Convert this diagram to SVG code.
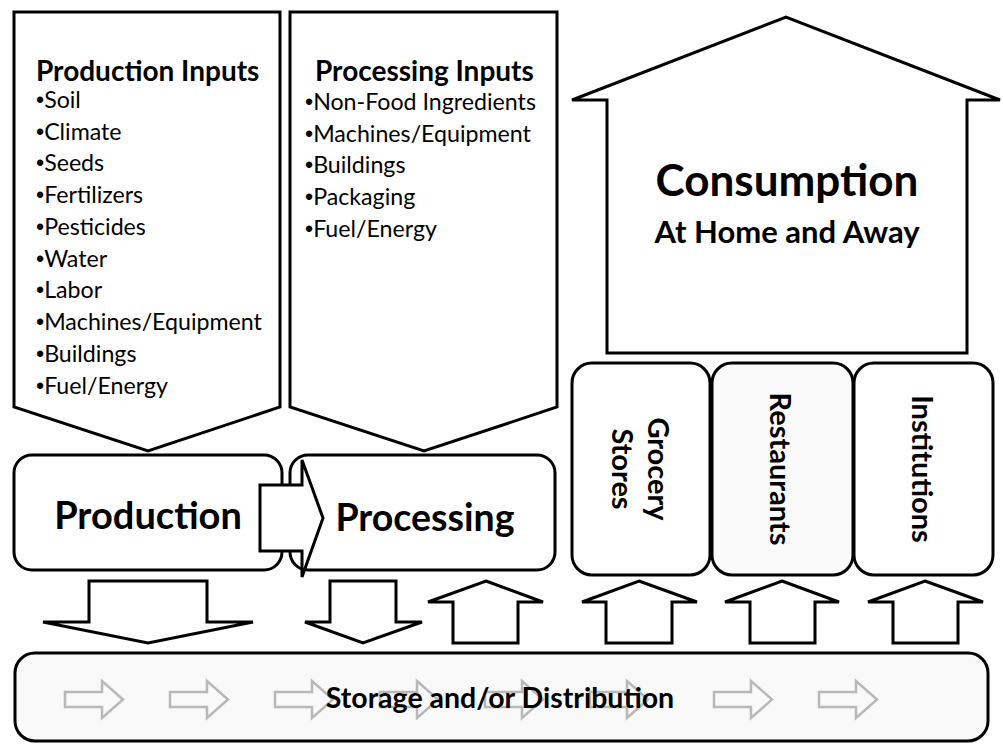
<svg xmlns="http://www.w3.org/2000/svg" width="1003" height="744" viewBox="0 0 1003 744">
<style>
.sh{fill:#fff;stroke:#000;stroke-width:3;stroke-linejoin:miter}
.ga{fill:none;stroke:#b8b8b8;stroke-width:2.5}
text{font-family:Lato,"Open Sans","Liberation Sans",sans-serif;fill:#000}
.t{font-weight:bold;font-size:28px}
.li{font-size:23.2px}
.b{font-family:"Liberation Sans",sans-serif}
.big{font-weight:bold;font-size:38px;text-anchor:middle}
.rot{font-weight:bold;font-size:29px;text-anchor:middle}
</style>
<defs>
<path id="ga" d="M0,-7.5 H37 V-18.5 L58,0 L37,18.5 V7.5 H0 Z"/>
</defs>
<g id="production-inputs">
<polygon class="sh" points="14,12 280,12 280,407 148,451 14,407"/>
<text class="t" x="36" y="81">Production Inputs</text>
<text class="li" x="36" y="108"><tspan class="b">•</tspan>Soil</text>
<text class="li" x="36" y="140"><tspan class="b">•</tspan>Climate</text>
<text class="li" x="36" y="171"><tspan class="b">•</tspan>Seeds</text>
<text class="li" x="36" y="203"><tspan class="b">•</tspan>Fertilizers</text>
<text class="li" x="36" y="235"><tspan class="b">•</tspan>Pesticides</text>
<text class="li" x="36" y="267"><tspan class="b">•</tspan>Water</text>
<text class="li" x="36" y="298"><tspan class="b">•</tspan>Labor</text>
<text class="li" x="36" y="330"><tspan class="b">•</tspan>Machines/Equipment</text>
<text class="li" x="36" y="362"><tspan class="b">•</tspan>Buildings</text>
<text class="li" x="36" y="394"><tspan class="b">•</tspan>Fuel/Energy</text>
</g>
<g id="processing-inputs">
<polygon class="sh" points="290,12 557,12 557,407 424,451 290,407"/>
<text class="t" x="315" y="81">Processing Inputs</text>
<text class="li" x="305" y="110"><tspan class="b">•</tspan>Non-Food Ingredients</text>
<text class="li" x="305" y="142"><tspan class="b">•</tspan>Machines/Equipment</text>
<text class="li" x="305" y="173"><tspan class="b">•</tspan>Buildings</text>
<text class="li" x="305" y="205"><tspan class="b">•</tspan>Packaging</text>
<text class="li" x="305" y="237"><tspan class="b">•</tspan>Fuel/Energy</text>
</g>
<g id="consumption">
<polygon class="sh" points="572,100 786,17 1000,100 967,100 967,353 607,353 607,100"/>
<text x="787" y="196" style="font-weight:bold;font-size:44px;text-anchor:middle">Consumption</text>
<text x="787" y="243" style="font-weight:bold;font-size:31px;text-anchor:middle">At Home and Away</text>
</g>
<g id="production">
<rect class="sh" x="14" y="455" width="268" height="115" rx="18"/>
<text class="big" x="148" y="529">Production</text>
</g>
<g id="processing">
<rect class="sh" x="290" y="455" width="265" height="115" rx="18"/>
<text class="big" x="425" y="531" style="font-size:37.5px">Processing</text>
</g>
<g id="grocery">
<rect class="sh" x="572" y="363" width="138" height="212" rx="20"/>
<text class="rot" transform="translate(658,469) rotate(90)" dy="0.35em">Grocery</text>
<text class="rot" transform="translate(622,469) rotate(90)" dy="0.35em">Stores</text>
</g>
<g id="restaurants">
<rect class="sh" x="712" y="363" width="141" height="212" rx="20" style="fill:#fafafa"/>
<text class="rot" transform="translate(780,469) rotate(90)" dy="0.35em">Restaurants</text>
</g>
<g id="institutions">
<rect class="sh" x="854" y="363" width="139" height="212" rx="20"/>
<text class="rot" transform="translate(922,469) rotate(90)" dy="0.35em">Institutions</text>
</g>
<g id="storage">
<rect class="sh" x="15" y="653" width="973" height="88" rx="20" style="fill:#f9f9f9"/>
<g>
<use href="#ga" class="ga" x="65" y="699.5"/>
<use href="#ga" class="ga" x="170" y="699.5"/>
<use href="#ga" class="ga" x="275" y="699.5"/>
<use href="#ga" class="ga" x="380" y="699.5"/>
<use href="#ga" class="ga" x="485" y="699.5"/>
<use href="#ga" class="ga" x="590" y="699.5"/>
<use href="#ga" class="ga" x="714" y="699.5"/>
<use href="#ga" class="ga" x="819" y="699.5"/>
</g>
<text x="500" y="708" style="font-weight:bold;font-size:28.5px;text-anchor:middle">Storage and/or Distribution</text>
</g>
<g id="connectors">
<polygon class="sh" stroke-width="2.5" points="260,485 302,485 302,460 323,518 302,577 302,551 260,551"/>
<polygon class="sh" points="89,581 207,581 207,622 253,622 148,643 43,622 89,622"/>
<polygon class="sh" points="330,581 396,581 396,622 422,622 363,643 305,622 330,622"/>
<polygon class="sh" points="486,581 543,602 518,602 518,643 453,643 453,602 428,602"/>
<polygon class="sh" points="639,581 697,602 672,602 672,643 606,643 606,602 582,602"/>
<polygon class="sh" points="782,581 839,602 815,602 815,643 750,643 750,602 725,602"/>
<polygon class="sh" points="925,581 983,602 958,602 958,643 893,643 893,602 868,602"/>
</g>
</svg>
